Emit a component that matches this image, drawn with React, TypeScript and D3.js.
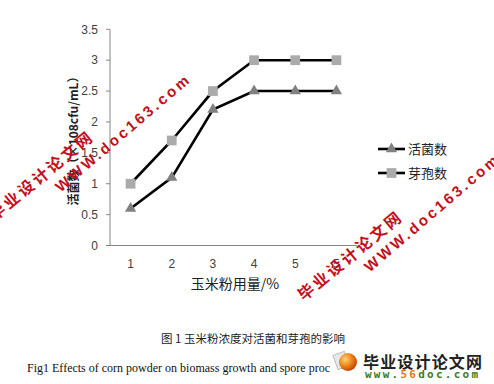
import React from "react";
import * as d3 from "d3";

const categories = ["1", "2", "3", "4", "5", "5"];
const liveCounts = [0.6, 1.1, 2.2, 2.5, 2.5, 2.5];
const sporeCounts = [1.0, 1.7, 2.5, 3.0, 3.0, 3.0];
const yTicks = [0, 0.5, 1, 1.5, 2, 2.5, 3, 3.5];
const seriesNames = ["活菌数", "芽孢数"];

const W = 494;
const H = 384;

export default function App() {
  const x = d3
    .scaleBand<number>()
    .domain(categories.map((_, i) => i))
    .range([110, 357]);
  const y = d3.scaleLinear().domain([0, 3.5]).range([245.5, 29.3]);
  const cx = (i: number) => (x(i) as number) + x.bandwidth() / 2;

  const line = d3
    .line<number>()
    .x((_, i) => cx(i))
    .y((d) => y(d));

  const tri = d3.symbol().type(d3.symbolTriangle).size(55)() as string;
  const sq = d3.symbol().type(d3.symbolSquare).size(95)() as string;

  const axisColor = "#868686";
  const tickFont = "'Liberation Sans', Arial, sans-serif";
  const cjk = "'Noto Sans CJK SC', sans-serif";
  const wmColor = "#c2101c";

  const series = [
    { name: seriesNames[0], values: liveCounts, marker: tri, fill: "#808080" },
    { name: seriesNames[1], values: sporeCounts, marker: sq, fill: "#ababab" },
  ];

  return (
    <svg
      width={W}
      height={H}
      style={{ position: "absolute", left: 0, top: 0, background: "#fff" }}
    >
      <rect x={0} y={0} width={W} height={H} fill="#fff" />
      {/* axes */}
      <line x1={110} x2={110} y1={y(3.5)} y2={y(0)} stroke={axisColor} strokeWidth={1} />
      <line x1={110} x2={357} y1={y(0)} y2={y(0)} stroke={axisColor} strokeWidth={1} />
      {yTicks.map((t) => (
        <g key={t}>
          <line x1={106} x2={110} y1={y(t)} y2={y(t)} stroke={axisColor} />
          <text
            x={98}
            y={y(t)}
            dy="0.35em"
            textAnchor="end"
            fontFamily={tickFont}
            fontSize={12}
            fill="#404040"
          >
            {t}
          </text>
        </g>
      ))}
      {categories.map((c, i) => (
        <text
          key={i}
          x={cx(i)}
          y={268}
          textAnchor="middle"
          fontFamily={tickFont}
          fontSize={12}
          fill="#404040"
        >
          {c}
        </text>
      ))}
      {/* series */}
      {series.map((s) => (
        <g key={s.name}>
          <path d={line(s.values) as string} fill="none" stroke="#000" strokeWidth={2.6} />
          {s.values.map((v, i) => (
            <path key={i} d={s.marker} transform={`translate(${cx(i)},${y(v)})`} fill={s.fill} />
          ))}
        </g>
      ))}
      {/* legend */}
      {series.map((s, k) => {
        const ly = 149 + k * 24;
        return (
          <g key={s.name}>
            <line x1={378} x2={405} y1={ly} y2={ly} stroke="#000" strokeWidth={2.6} />
            <path d={s.marker} transform={`translate(391.5,${ly})`} fill={s.fill} />
            <text x={408} y={ly} dy="0.36em" fontFamily={cjk} fontSize={13} fill="#222">
              {s.name}
            </text>
          </g>
        );
      })}
      {/* axis titles */}
      <text
        transform="translate(74,138) rotate(-90)"
        textAnchor="middle"
        dy="0.35em"
        fontFamily={cjk}
        fontSize={12}
        fontWeight="bold"
        fill="#222"
      >
        活菌数（×108cfu/mL）
      </text>
      <text x={235} y={284} dy="0.35em" textAnchor="middle" fontFamily={cjk} fontSize={14} fill="#222">
        玉米粉用量/%
      </text>
      {/* captions */}
      <text x={253} y={339} dy="0.35em" textAnchor="middle" fontFamily={cjk} fontSize={11.5} fill="#222">
        图 1  玉米粉浓度对活菌和芽孢的影响
      </text>
      <text x={27} y={368} dy="0.33em" fontFamily="'Liberation Serif', 'Times New Roman', serif" fontSize={12} fill="#111" textLength={303} lengthAdjust="spacing">
        Fig1 Effects of corn powder on biomass growth and spore proc
      </text>
      {/* watermarks */}
      {[
        [0, 0],
        [309, 80],
      ].map(([ox, oy], k) => (
        <g key={k}>
          <text
            transform={`translate(${40.5 + ox},${176.5 + oy}) rotate(-39.5)`}
            textAnchor="middle"
            dy="0.35em"
            fontFamily={cjk}
            fontWeight="bold"
            fontSize={16}
            fill={wmColor}
            textLength={128}
            lengthAdjust="spacing"
          >
            毕业设计论文网
          </text>
          <text
            transform={`translate(${122 + ox},${133.5 + oy}) rotate(-40.5)`}
            textAnchor="middle"
            dy="0.35em"
            fontFamily={tickFont}
            fontWeight="bold"
            fontSize={15}
            fill={wmColor}
            textLength={170}
            lengthAdjust="spacing"
          >
            WWW.doc163.com
          </text>
        </g>
      ))}
      {/* bottom logo */}
      <defs>
        <radialGradient id="ball" cx="0.35" cy="0.35" r="0.7">
          <stop offset="0" stopColor="#ffd27a" />
          <stop offset="0.5" stopColor="#f08a1a" />
          <stop offset="1" stopColor="#b8420a" />
        </radialGradient>
      </defs>
      <rect x={335} y={353} width={12} height={15} fill="#e8e8e8" stroke="#bbb" transform="rotate(-20 341 360)" />
      <circle cx={348} cy={362} r={9} fill="url(#ball)" />
      <text x={363} y={362} dy="0.35em" fontFamily={cjk} fontWeight="bold" fontSize={16} fill="#222" textLength={119} lengthAdjust="spacing">
        毕业设计论文网
      </text>
      <text x={365} y={374} dy="0.35em" fontFamily="'DejaVu Sans Mono', monospace" fontWeight="bold" fontSize={11} fill="#3d7d1f" textLength={113} lengthAdjust="spacing">
        www.<tspan fill="#e07a10">56</tspan>doc.com
      </text>
    </svg>
  );
}
